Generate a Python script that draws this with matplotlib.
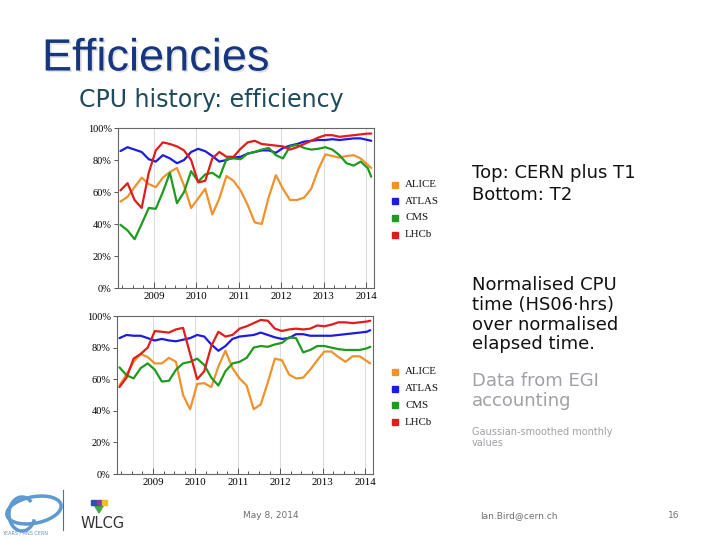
import numpy as np
import matplotlib
matplotlib.use("Agg")
import matplotlib.pyplot as plt
import matplotlib.patheffects as pe
from matplotlib.patches import Rectangle, Ellipse, Arc, Polygon

# Gaussian-smoothed monthly efficiencies, read every second month off the slide
months = [f"{2008 + (2 + 2 * k) // 12}-{(2 + 2 * k) % 12 + 1:02d}" for k in range(36)] + ["2014-02"]
experiments = ["ALICE", "ATLAS", "CMS", "LHCb"]
colours = ["#f0922b", "#1c1ce0", "#1e9a1e", "#e21c1c"]

# Top: CERN plus T1
top_alice = [54, 57, 63, 69, 65, 63, 69, 72.5, 75, 64, 50, 56, 62, 46, 56, 70, 67, 61, 52,
             41, 40, 57, 70.5, 62, 55, 55, 56.5, 62, 74, 83.5, 82.5, 81.5, 82.5, 83, 81, 77, 75]
top_atlas = [85.6, 88, 86.5, 85, 80.5, 79, 83, 81, 78, 80, 85, 87, 85.5, 82.5, 79, 80, 81.5, 82, 84,
             85, 86, 86, 84.5, 87.5, 89, 90, 91.5, 92, 92.5, 92.5, 93, 92.5, 93, 93.5, 93.5, 92.5, 92]
top_cms = [39.5, 36, 30.5, 40, 50, 49.5, 60, 72, 53, 60, 73, 66.5, 71, 72, 69, 80.5, 81, 80.5, 84,
           85, 86.5, 87.5, 83, 81, 88.5, 89.5, 87.5, 86.5, 87, 88, 86.5, 83, 78, 76.5, 79, 75, 69.5]
top_lhcb = [61, 65.5, 55, 50, 72, 86, 91, 90, 88.5, 86, 80, 66, 67, 81, 85, 82, 82, 87, 91,
            92, 90, 89.5, 89, 88.5, 86.5, 88, 90, 92, 94, 95.5, 95.5, 94.5, 95, 95.5, 96, 96.5, 96.5]

# Bottom: T2
bot_alice = [56, 63, 71, 76, 74, 70, 70, 73.5, 71, 50, 41, 57, 57.5, 55, 68, 78, 67, 60.5, 56,
             41, 44, 58, 73, 72, 63, 60.5, 61, 66, 72, 77.5, 77.5, 74, 71, 74.5, 74.5, 71.5, 70]
bot_atlas = [86, 88, 87.5, 87.5, 86, 84.5, 85.5, 84.5, 84, 85, 86, 88, 87, 82, 78, 81, 85.5, 87, 87.5,
             88, 89.5, 88, 86.5, 85.5, 86, 88.5, 88.5, 87.5, 87.5, 87.5, 87.5, 88, 88.5, 89, 89.5, 90, 91]
bot_cms = [67.5, 62.5, 60.5, 67, 70, 66, 58.5, 59, 66, 70, 71, 73, 69, 61, 56, 65, 70, 71, 73.5,
           80, 81, 80.5, 82, 83, 86.5, 86, 77, 78.5, 81, 81, 80, 79, 78.5, 78.5, 78.5, 79.5, 80.5]
bot_lhcb = [55, 61, 73, 76, 80, 90.5, 90, 89.5, 91.5, 92.5, 76, 60, 65, 81, 90, 87, 88, 92, 93.5,
            95.5, 97.5, 97, 92, 90.5, 91.5, 92, 91.5, 92, 94, 93.5, 94.5, 96, 96, 95.5, 96, 96.5, 97]

year_ticks = [2009, 2010, 2011, 2012, 2013, 2014]
pct_ticks = [0, 20, 40, 60, 80, 100]

side_lines = ["Top: CERN plus T1", "Bottom: T2"]
note_lines = ["Normalised CPU", "time (HS06\u00b7hrs)", "over normalised", "elapsed time."]
egi_lines = ["Data from EGI", "accounting"]
small_lines = ["Gaussian-smoothed monthly", "values"]


def to_year(m):
    y, mo = m.split("-")
    return int(y) + (int(mo) - 0.5) / 12


t = np.array([to_year(m) for m in months])

W, H = 720, 540
def fx(x):
    return x / W
def fy(y):
    return 1 - y / H

serif = "Liberation Serif"
fig = plt.figure(figsize=(7.2, 5.4), dpi=100)


def draw_panel(left, top, right, bottom, series, legend_top):
    ax = fig.add_axes([fx(left), fy(bottom), fx(right) - fx(left), fy(top) - fy(bottom)])
    for vals, c in zip(series, colours):
        ax.plot(t, vals, color=c, lw=1.6, solid_capstyle="round",
                solid_joinstyle="round", zorder=3)
    ax.set_xlim(2008.15, 2014.19)
    ax.set_ylim(0, 100)
    ax.set_xticks(year_ticks)
    ax.set_xticks(np.arange(2008.25, 2014.2, 0.25), minor=True)
    ax.set_xticklabels([str(y) for y in year_ticks], family=serif, fontsize=7.8)
    ax.set_yticks(pct_ticks)
    ax.set_yticklabels([f"{p}%" for p in pct_ticks], family=serif, fontsize=7.5)
    ax.grid(axis="x", color="#dcdcdc", lw=0.8, zorder=0)
    ax.tick_params(axis="x", which="major", direction="in", length=4, width=0.7,
                   color="#555555", pad=3)
    ax.tick_params(axis="x", which="minor", direction="in", length=2.5, width=0.7,
                   color="#555555")
    ax.tick_params(axis="y", direction="out", length=3, width=0.7, color="#555555", pad=1.5)
    for s in ax.spines.values():
        s.set_color("#666666")
        s.set_linewidth(0.8)

    # legend squares
    for i, (name, c) in enumerate(zip(experiments, colours)):
        yc = legend_top + i * 16.7
        fig.patches.append(Rectangle((fx(392), fy(yc + 3)), 6 / W, 6 / H,
                                     transform=fig.transFigure, color=c))
        fig.text(fx(405), fy(yc), name, family=serif, fontsize=7.8,
                 va="center", ha="left", color="#111111")
    return ax


draw_panel(118, 128, 374, 288, [top_alice, top_atlas, top_cms, top_lhcb], 184.5)
draw_panel(117, 316, 373, 474, [bot_alice, bot_atlas, bot_cms, bot_lhcb], 372)

# titles
fig.text(fx(42), fy(70.5), "Efficiencies", family="Liberation Sans", fontsize=32.5,
         color="#16367e", va="baseline",
         path_effects=[pe.withSimplePatchShadow(offset=(1.2, -1.2),
                                                shadow_rgbFace="#a8a8a8", alpha=0.35)])
fig.text(fx(79), fy(107.5), "CPU history: efficiency", family="DejaVu Sans", fontsize=17,
         color="#1f4a5c", va="baseline")

# side notes
for txt, yb in zip(side_lines, [178, 200]):
    fig.text(fx(472), fy(yb), txt, fontsize=13, color="#111111", va="baseline")
for txt, yb in zip(note_lines, [290, 310, 329.5, 349]):
    fig.text(fx(472), fy(yb), txt, fontsize=13, color="#111111", va="baseline")
for txt, yb in zip(egi_lines, [386.5, 406]):
    fig.text(fx(472), fy(yb), txt, fontsize=13, color="#a0a0a8", va="baseline")
for txt, yb in zip(small_lines, [435, 446.5]):
    fig.text(fx(472), fy(yb), txt, fontsize=7, color="#a0a0a8", va="baseline")

# footer
fig.text(fx(243), fy(516), "May 8, 2014", fontsize=6.5, color="#707070", va="center")
fig.text(fx(480), fy(516), "Ian.Bird@cern.ch", fontsize=6.5, color="#707070", va="center")
fig.text(fx(668), fy(516), "16", fontsize=6.5, color="#707070", va="center")

# CERN 60 logo (rough) and WLCG mark
fig.patches.append(Ellipse((fx(34), fy(510)), 56 / W, 26 / H, angle=18, fill=False,
                           ec="#5d9ad0", lw=2.5, transform=fig.transFigure))
fig.patches.append(Arc((fx(22), fy(514)), 26 / W, 34 / H, theta1=60, theta2=330,
                       ec="#5d9ad0", lw=2.5, transform=fig.transFigure))
fig.text(fx(2), fy(533), "YEARS / ANS CERN", fontsize=3.5, color="#6f8fb0", va="center")
fig.lines.append(plt.Line2D([fx(63), fx(63)], [fy(490), fy(530)], color="#4a6fa5",
                            lw=0.8, transform=fig.transFigure))
fig.patches.append(Polygon([(fx(93), fy(503)), (fx(105), fy(503)), (fx(99), fy(513))],
                           closed=True, color="#3fae3f", transform=fig.transFigure))
fig.patches.append(Rectangle((fx(91), fy(505)), 5 / W, 5 / H, color="#3050b0",
                             transform=fig.transFigure))
fig.patches.append(Rectangle((fx(96.5), fy(505)), 5 / W, 5 / H, color="#8040a0",
                             transform=fig.transFigure))
fig.patches.append(Rectangle((fx(102), fy(505)), 5 / W, 5 / H, color="#f0c020",
                             transform=fig.transFigure))
fig.text(fx(103), fy(523), "WLCG", family="DejaVu Sans", fontsize=10.5, color="#333333",
         ha="center", va="center")

fig.savefig("out.png", dpi=100)
